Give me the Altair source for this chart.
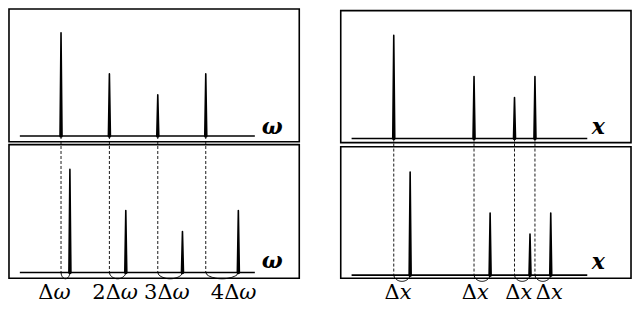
import altair as alt
import pandas as pd
import numpy as np

# ---- diagram geometry (reference-frame units, y grows downward) ----
frame_x0 = [6, 6, 342, 342]
frame_y0 = [4, 146, 5.7, 148.3]
frame_x1 = [300, 300, 636, 636]
frame_y1 = [143, 286, 144, 286]

axis_x0 = [17, 17, 353, 353]
axis_x1 = [255, 255, 591.7, 591.7]
axis_y = [137, 280, 139.7, 282.7]

axis_names = ["ω", "ω", "x", "x"]
axis_name_x = [272.5, 272.5, 603, 603]
axis_name_y = [135, 275, 135, 276]

# ---- spectral lines ----
omega_top = [58.7, 107.7, 156.7, 205.3]
omega_bottom = [67.7, 124.3, 181.7, 238.3]
x_top = [395.7, 477, 518, 538.7]
x_bottom = [412.3, 493.3, 533.7, 554.7]
amplitudes = [108, 65, 43, 65]

# ---- shift labels ----
omega_prefix = ["Δ", "2Δ", "3Δ", "4Δ"]
omega_split = [51, 119.3, 171.7, 239.3]
x_prefix = ["Δ", "Δ", "Δ", "Δ"]
x_split = [401.7, 480, 524, 555]
label_y = 308
bracket_depth = 6.5

FONT = "DejaVu Serif"

# ---- tables ----
frames = pd.DataFrame({"x0": frame_x0, "y0": frame_y0, "x1": frame_x1, "y1": frame_y1})
axes_df = pd.DataFrame({"x0": axis_x0, "x1": axis_x1, "y": axis_y})
names_df = pd.DataFrame({"t": axis_names, "x": axis_name_x, "y": axis_name_y})

panel_peaks = [omega_top, omega_bottom, x_top, x_bottom]
spike_rows = []
for p, peaks in enumerate(panel_peaks):
    for k, px in enumerate(peaks):
        sid = f"{p}-{k}"
        spike_rows.append({"id": sid, "x": px, "y": axis_y[p], "w": 3.6, "o": 0})
        spike_rows.append({"id": sid, "x": px, "y": axis_y[p] - amplitudes[k], "w": 1.6, "o": 1})
spikes = pd.DataFrame(spike_rows)

dash_rows = []
for k in range(4):
    dash_rows.append({"x": omega_top[k], "y": axis_y[0], "y2": axis_y[1]})
    dash_rows.append({"x": x_top[k], "y": axis_y[2], "y2": axis_y[3]})
dashes = pd.DataFrame(dash_rows)

br_rows = []
ts = np.linspace(0, 1, 25)
for side, (tops, bots, base) in enumerate([(omega_top, omega_bottom, axis_y[1]),
                                           (x_top, x_bottom, axis_y[3])]):
    for k in range(4):
        a, b = tops[k], bots[k]
        for i, t in enumerate(ts):
            br_rows.append({"id": f"{side}-{k}", "o": i,
                            "x": a + (b - a) * t,
                            "y": base + bracket_depth * np.sqrt(np.sin(np.pi * t))})
brackets = pd.DataFrame(br_rows)

labels = pd.DataFrame({
    "pre": omega_prefix + x_prefix,
    "var": ["ω"] * 4 + ["x"] * 4,
    "x": omega_split + x_split,
    "y": [label_y] * 8,
})

# ---- scales ----
xs = alt.Scale(domain=[5, 637], nice=False, zero=False)
ys = alt.Scale(domain=[3, 315], nice=False, zero=False, reverse=True)

def X(f):
    return alt.X(f, type="quantitative", scale=xs, axis=None)

def Y(f):
    return alt.Y(f, type="quantitative", scale=ys, axis=None)

frame_layer = alt.Chart(frames).mark_rect(fillOpacity=0, stroke="black", strokeWidth=1.6).encode(
    x=X("x0"), x2="x1", y=Y("y0"), y2="y1")

axis_layer = alt.Chart(axes_df).mark_rule(color="black", strokeWidth=1.6).encode(
    x=X("x0"), x2="x1", y=Y("y"))

dash_layer = alt.Chart(dashes).mark_rule(color="black", strokeWidth=0.9, strokeDash=[3, 2]).encode(
    x=X("x"), y=Y("y"), y2="y2")

bracket_layer = alt.Chart(brackets).mark_line(color="black", strokeWidth=1).encode(
    x=X("x"), y=Y("y"), detail="id:N", order="o:Q")

spike_layer = alt.Chart(spikes).mark_trail(color="black").encode(
    x=X("x"), y=Y("y"), detail="id:N", order="o:Q",
    size=alt.Size("w:Q", scale=None, legend=None))

name_layer = alt.Chart(names_df).mark_text(
    font=FONT, fontSize=22, fontStyle="italic", fontWeight="bold",
    align="center", baseline="alphabetic", color="black").encode(
    x=X("x"), y=Y("y"), text="t:N")

pre_layer = alt.Chart(labels).mark_text(
    font=FONT, fontSize=21, align="right", baseline="alphabetic",
    color="black").encode(x=X("x"), y=Y("y"), text="pre:N")

var_layer = alt.Chart(labels).mark_text(
    font=FONT, fontSize=21, fontStyle="italic", align="left",
    baseline="alphabetic", color="black").encode(x=X("x"), y=Y("y"), text="var:N")

chart = alt.layer(
    frame_layer, axis_layer, dash_layer, bracket_layer, spike_layer,
    name_layer, pre_layer, var_layer
).properties(
    width=624, height=298, padding=0,
    autosize=alt.AutoSizeParams(type="none"),
    background="white",
).configure_view(stroke=None)

chart.save("out.html", embed_options={"renderer": "svg", "actions": False})
